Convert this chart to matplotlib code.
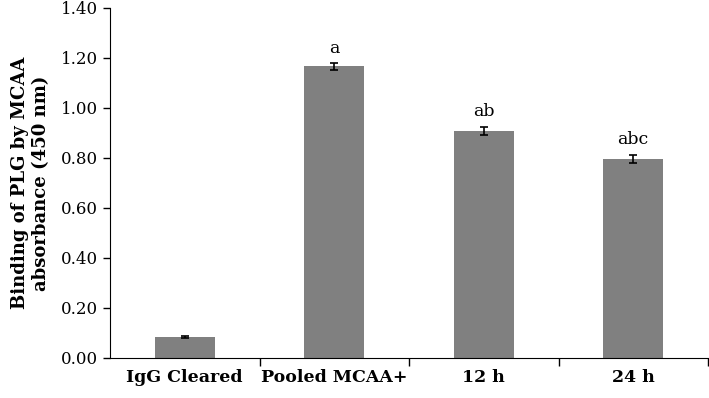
import numpy as np
import matplotlib.pyplot as plt

categories = ['IgG Cleared', 'Pooled MCAA+', '12 h', '24 h']
values = [0.085, 1.167, 0.909, 0.797]
errors = [0.003, 0.014, 0.017, 0.016]
letters = ['', 'a', 'ab', 'abc']

plt.rcParams['font.family'] = ['DejaVu Serif']

fig = plt.figure(figsize=(7.09, 3.98), dpi=100)
ax = fig.add_axes([110/709, 40/398, 598/709, 350/398])

x = np.arange(len(categories))
ax.bar(x, values, width=0.4, color='#808080', yerr=errors,
       error_kw=dict(ecolor='black', elinewidth=1.2, capsize=3, capthick=1.2))

for xi, v, e, t in zip(x, values, errors, letters):
    if t:
        ax.text(xi, v + e + 0.025, t, ha='center', va='bottom', fontsize=12.5)

ax.set_xlim(-0.5, len(categories) - 0.5)
ax.set_ylim(0, 1.4)
ax.set_yticks(np.arange(0, 1.41, 0.2))
ax.set_yticklabels(['%.2f' % v for v in np.arange(0, 1.41, 0.2)], fontsize=12)

# category names centered, ticks between categories
ax.set_xticks(np.arange(0.5, len(categories) - 0.5 + 0.01, 1))
ax.set_xticklabels([])
ax.set_xticks(x, minor=True)
ax.set_xticklabels(categories, minor=True, fontsize=12.5, fontweight='bold')
ax.tick_params(axis='x', which='minor', length=0, pad=8)
ax.tick_params(axis='x', which='major', length=6, width=1)
ax.tick_params(axis='y', length=5, width=1)

ax.spines['top'].set_visible(False)
ax.spines['right'].set_visible(False)

ax.set_ylabel('Binding of PLG by MCAA\nabsorbance (450 nm)', fontsize=13,
              fontweight='bold', labelpad=8)

fig.savefig('out.png')
